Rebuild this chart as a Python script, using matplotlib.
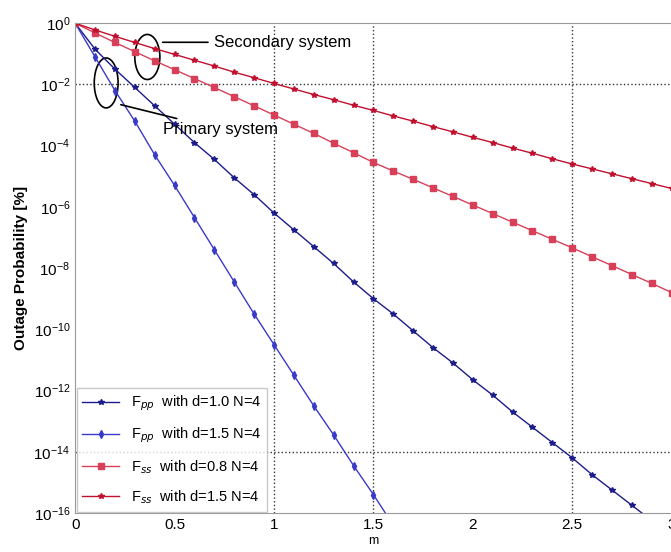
import numpy as np
import matplotlib
matplotlib.use("Agg")
import matplotlib.pyplot as plt
from matplotlib.patches import Ellipse

plt.rcParams["font.family"] = ["Liberation Sans", "DejaVu Sans"]

m = [round(0.1 * i, 1) for i in range(31)]

# log10 of the outage probability
prim_d10 = [0, -0.85, -1.5, -2.1, -2.7, -3.3, -3.9, -4.45, -5.05, -5.6, -6.2,
            -6.75, -7.3, -7.85, -8.45, -9.0, -9.5, -10.05, -10.6, -11.1, -11.65,
            -12.15, -12.7, -13.2, -13.7, -14.2, -14.75, -15.25, -15.75, -16.25, -16.75]
prim_d15 = [0, -1.1, -2.2, -3.2, -4.3, -5.3, -6.35, -7.4, -8.45, -9.5, -10.5,
            -11.5, -12.5, -13.45, -14.45, -15.4, -16.4]
sec_d08 = [0, -0.32, -0.63, -0.93, -1.23, -1.52, -1.81, -2.1, -2.4, -2.7, -3.0,
           -3.3, -3.6, -3.92, -4.23, -4.55, -4.83, -5.1, -5.38, -5.66, -5.94,
           -6.22, -6.5, -6.78, -7.06, -7.34, -7.63, -7.92, -8.21, -8.5, -8.8]
sec_d15 = [0, -0.22, -0.43, -0.63, -0.83, -1.02, -1.21, -1.4, -1.6, -1.78, -1.97,
           -2.15, -2.33, -2.5, -2.68, -2.85, -3.03, -3.2, -3.38, -3.55, -3.73,
           -3.9, -4.08, -4.25, -4.43, -4.6, -4.76, -4.92, -5.08, -5.24, -5.4]

labels = [
    r"F$_{pp}$  with d=1.0 N=4",
    r"F$_{pp}$  with d=1.5 N=4",
    r"F$_{ss}$  with d=0.8 N=4",
    r"F$_{ss}$  with d=1.5 N=4",
]
series = [prim_d10, prim_d15, sec_d08, sec_d15]
colors = ["#1c1c8a", "#3a3ac8", "#d8405a", "#c0102e"]
markers = ["*", "d", "s", "*"]

grid_x = [1, 1.5, 2.5]
grid_y = [1e-2, 1e-14]
y_ticks = [10.0 ** -k for k in range(0, 17, 2)]

fig = plt.figure(figsize=(6.71, 5.52), dpi=100)
ax = fig.add_axes([0.112, 0.0707, 0.889, 0.8873])

for vals, lab, c, mk in zip(series, labels, colors, markers):
    xs = m[:len(vals)]
    ax.semilogy(xs, 10.0 ** np.array(vals), color=c, marker=mk, markersize=3.8,
                linewidth=1.0, label=lab, markerfacecolor=c, markeredgecolor=c)

for gx in grid_x:
    ax.axvline(gx, color="#333333", linestyle=":", linewidth=1.0, zorder=0)
for gy in grid_y:
    ax.axhline(gy, color="#333333", linestyle=":", linewidth=1.0, zorder=0)

ax.set_xlim(0, 3)
ax.set_ylim(1e-16, 1)
ax.set_xticks([0, 0.5, 1, 1.5, 2, 2.5, 3])
ax.set_xticklabels(["0", "0.5", "1", "1.5", "2", "2.5", "3"])
ax.set_yticks(y_ticks)
ax.yaxis.set_minor_locator(matplotlib.ticker.NullLocator())
ax.tick_params(labelsize=11, direction="in", length=0)
for s in ax.spines.values():
    s.set_color("#9a9a9a")

ax.set_ylabel("Outage Probability [%]", fontsize=11, fontweight="bold")
ax.set_xlabel("m", fontsize=9, labelpad=2)

# ellipses marking the two groups of curves
ax.add_patch(Ellipse((0.121, 0.931), 0.042, 0.092, transform=ax.transAxes,
                     fill=False, edgecolor="black", linewidth=1.2))
ax.add_patch(Ellipse((0.052, 0.878), 0.040, 0.102, transform=ax.transAxes,
                     fill=False, edgecolor="black", linewidth=1.2))
ax.annotate("Secondary system", xy=(0.142, 0.961), xytext=(0.232, 0.961),
            xycoords="axes fraction", textcoords="axes fraction",
            fontsize=12, va="center",
            arrowprops=dict(arrowstyle="-", color="black", linewidth=1.2))
ax.annotate("Primary system", xy=(0.072, 0.835), xytext=(0.148, 0.783),
            xycoords="axes fraction", textcoords="axes fraction",
            fontsize=12, va="center",
            arrowprops=dict(arrowstyle="-", color="black", linewidth=1.2))

leg = ax.legend(loc="lower left", fontsize=10.5, frameon=True, fancybox=False,
                borderaxespad=0.1, handlelength=2.5, labelspacing=0.85)
leg.get_frame().set_edgecolor("#bbbbbb")

fig.savefig("out.png", dpi=100)
